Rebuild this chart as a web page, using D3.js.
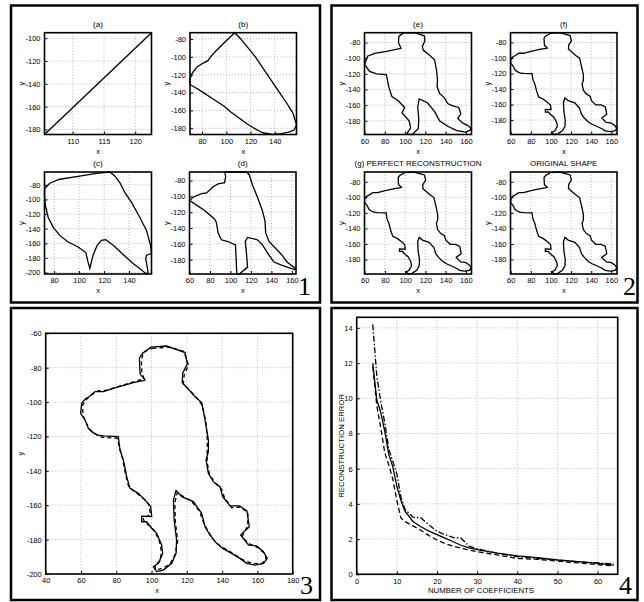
<!DOCTYPE html>
<html>
<head>
<meta charset="utf-8">
<script src="https://cdn.jsdelivr.net/npm/d3@7"></script>
<style>
body { margin: 0; background: #fff; }
svg { display: block; }
</style>
</head>
<body>
<svg id="fig" width="644" height="602"></svg>
<script>
// ---- data ----
const lineA = [[105.5, -184.4], [122.6, -95.2]];

const shapeB = [[107,-73],[103,-78],[97,-86],[91,-94],[87,-100],[85,-104],[81,-107],[76,-111],[72,-118],[70,-125],[70,-131],
  [75,-135],[82,-141],[90,-148],[98,-155],[104,-162],[110,-168],[117,-175],[123,-180],[130,-185],[138,-187],[146,-186],
  [152,-184],[156,-182],[158,-176],[155,-163],[150,-152],[144,-140],[137,-126],[130,-112],[124,-100],[118,-90],[112,-80]];

const shapeC = [[72.5,-85],[76.5,-77.8],[84.5,-72.4],[97.9,-68.8],[113.9,-64.3],[124.6,-62.5],[128.6,-67.9],[132.6,-76.9],
  [136.6,-90.5],[142,-104],[148.6,-124.3],[154,-142.4],[157.2,-162.7],[158,-174],[154,-176.3],[153.4,-180.8],[155.3,-199.8],
  [154,-202],[143.3,-187.6],[135.3,-175.4],[127.3,-162.7],[121.4,-155],[117.9,-156],[114.5,-162.7],[111.2,-176.3],
  [108.6,-194.3],[107,-184.4],[105.4,-172.7],[99.2,-165],[91.2,-158.2],[84.5,-149.2],[79.2,-137.9],[75.2,-124.3],
  [72.8,-106.3],[72.3,-92.7]];

const shapeD = [[94.3,-69.2],[115.8,-69.2],[118.3,-72.6],[121.5,-85.6],[126.3,-100.8],[131.2,-118.1],[133.7,-131.1],
  [134.4,-146.2],[137.6,-157.1],[144,-165.7],[150.4,-174.4],[155.2,-183],[164,-191.7],[162.5,-192.6],[150.4,-187.4],
  [142.4,-183],[137.6,-174.4],[131.2,-161.4],[126.3,-154.9],[116.7,-151.9],[114.5,-157.1],[115.8,-174.4],[116.7,-189.5],
  [108.7,-198.2],[106.2,-198.2],[105.5,-178.7],[104.9,-161.4],[97.5,-157.1],[91.1,-154.9],[87.9,-146.2],[86.3,-133.2],
  [84.7,-128.9],[75.1,-118.1],[60,-105.1],[63.8,-100.8],[71.9,-96.5],[76.7,-95.6],[83.1,-87.8],[87.9,-84.3],[94.3,-82.6],
  [95.3,-74.8]];

const shapeE = [[99,-67.5],[110,-67.8],[119,-71.5],[119.5,-78],[117,-85],[118,-90],[124,-96],[129,-102],[131,-115],
  [132,-128],[131.5,-136],[134,-145],[139,-151],[142,-158],[147,-161],[153,-163],[155,-171],[152,-177],[157,-183],
  [163,-187],[165.5,-191],[160,-194.5],[151,-192.5],[142,-187],[134,-180],[129,-168],[122,-157],[114,-152],[112.5,-162],
  [113.5,-178],[113,-190],[107,-197.5],[101.5,-197],[105.5,-189],[104,-180],[97,-170],[99.5,-163],[93,-154],[87,-149],
  [84,-137],[81.5,-121],[72,-120],[65,-117],[60,-108],[63,-97.5],[70,-94],[83,-91],[96,-87.5],[93.5,-80],[94,-72]];

const shapeOrig = [[99.5,-68.1],[108.6,-67.4],[119.0,-71.2],[120.3,-77.8],[117.6,-83.3],[117.4,-88.7],[119.9,-91.4],
  [124.6,-96.8],[128.4,-100.3],[130.3,-110.4],[132.2,-122.1],[132.2,-128.8],[130.9,-133.7],[132.2,-141.4],[135.0,-146.3],
  [138.8,-149.2],[140.3,-155.0],[144.5,-160.4],[149.8,-160.4],[154.0,-163.2],[155.4,-172.5],[150.5,-177.3],[154.9,-183.1],
  [159.6,-183.7],[163.4,-187.0],[165.6,-190.9],[163.4,-193.8],[158.6,-194.8],[153.9,-193.8],[150.1,-190.9],[145.4,-188.0],
  [140.3,-185.1],[136.9,-182.2],[133.1,-177.3],[130.3,-172.5],[128.4,-164.7],[123.7,-157.9],[117.1,-155.0],[113.9,-151.5],
  [112.4,-157.0],[112.8,-168.6],[114.2,-180.2],[113.9,-188.0],[111.4,-193.8],[106.7,-197.7],[102.9,-198.6],[101.0,-195.7],
  [103.9,-193.8],[106.3,-188.0],[105.7,-183.1],[102.9,-176.3],[100.1,-173.4],[97.2,-169.6],[94.4,-169.6],[94.4,-166.3],
  [100.1,-166.6],[99.5,-160.8],[97.2,-157.9],[92.5,-153.1],[87.8,-150.2],[85.9,-143.4],[84.0,-133.7],[82.1,-127.9],
  [81.2,-120.1],[72.7,-119.7],[68.9,-119.1],[66.1,-117.2],[64.2,-115.3],[62.3,-110.4],[59.8,-106.5],[60.4,-100.7],
  [62.3,-98.4],[64.7,-96.8],[68.0,-93.9],[72.7,-93.9],[80.2,-91.4],[89.7,-88.7],[95.4,-87.5],[96.3,-87.1],[93.5,-83.7],
  [93.1,-74.5],[94.9,-71.6],[97.2,-70.1]];

const shapeRecon = [[100.5,-68.8],[109.5,-68.0],[118.2,-70.5],[121.0,-78.5],[118.5,-84.0],[118.0,-89.5],[121.0,-92.5],
  [125.5,-97.5],[128.8,-102.0],[130.8,-111.5],[131.6,-122.0],[131.5,-129.5],[131.5,-135.0],[132.8,-142.0],[136.0,-147.0],
  [139.6,-150.5],[141.5,-156.0],[145.5,-161.5],[150.5,-161.0],[154.6,-164.5],[154.5,-172.0],[151.2,-178.5],[155.5,-182.5],
  [160.5,-184.8],[164.5,-188.5],[164.8,-192.0],[162.0,-194.2],[157.5,-193.8],[153.0,-192.5],[149.0,-190.0],[144.5,-187.0],
  [139.5,-184.0],[135.8,-181.0],[132.5,-176.0],[129.6,-170.5],[127.2,-163.5],[122.5,-157.5],[116.5,-154.0],[114.6,-152.5],
  [113.2,-158.5],[113.5,-169.5],[114.8,-181.0],[113.2,-189.0],[110.2,-194.5],[106.0,-196.8],[102.2,-197.5],[102.0,-194.5],
  [104.8,-192.5],[105.6,-187.0],[104.6,-181.5],[102.0,-175.5],[99.0,-172.0],[96.2,-170.2],[95.2,-167.5],[99.4,-165.5],
  [98.5,-159.8],[95.8,-156.5],[91.2,-152.8],[87.0,-149.0],[85.2,-142.0],[83.5,-132.5],[81.8,-126.5],[80.5,-121.0],
  [72.0,-120.5],[68.0,-118.5],[65.0,-116.0],[63.0,-112.0],[61.0,-107.5],[61.0,-101.5],[63.5,-98.0],[66.0,-95.8],
  [69.5,-93.5],[74.0,-93.2],[81.0,-91.0],[90.5,-88.0],[95.8,-86.5],[94.5,-83.0],[94.2,-75.5],[95.5,-71.0],[97.8,-69.5]];

const coeffs     = [4, 5, 6, 7, 8, 9, 10, 11, 12, 14, 16, 18, 20, 22, 24, 26, 28, 30, 35, 40, 45, 50, 55, 60, 64];
const errSolid   = [12, 9.9, 9.2, 8.1, 6.8, 6.1, 5.0, 4.2, 3.6, 3.0, 2.7, 2.45, 2.25, 2.05, 1.85, 1.65, 1.5, 1.4, 1.2, 1.05, 0.95, 0.82, 0.72, 0.62, 0.52];
const errDashed  = [11.8, 9.6, 8.3, 6.9, 6.2, 5.4, 4.2, 3.2, 3.0, 2.75, 2.5, 2.2, 1.95, 1.75, 1.6, 1.48, 1.38, 1.28, 1.1, 0.9, 0.85, 0.75, 0.65, 0.55, 0.48];
const errDashDot = [14.2, 11.3, 9.8, 8.6, 7.1, 6.4, 5.7, 4.4, 3.7, 3.25, 3.2, 2.8, 2.45, 2.25, 2.1, 2.05, 1.6, 1.45, 1.2, 1.0, 0.9, 0.8, 0.72, 0.65, 0.58];

const FONT = '"Liberation Sans", Arial, sans-serif';
const svg = d3.select('#fig');
const fmt = d => String(d);

// quadrant frames
[[11, 5.5, 309, 297], [331.5, 5.5, 306, 297], [11, 308, 309, 292], [331.5, 308, 306, 292]].forEach(b => {
    svg.append('rect').attr('x', b[0]).attr('y', b[1]).attr('width', b[2]).attr('height', b[3])
        .attr('fill', 'none').attr('stroke', '#000').attr('stroke-width', 2.5);
});

function panel(box, xdom, ydom, o) {
    var x0 = box[0], y0 = box[1], x1 = box[2], y1 = box[3],
        x = d3.scaleLinear().domain(xdom).range([x0, x1]),
        y = d3.scaleLinear().domain(ydom).range([y1, y0]),
        xt = x.ticks(o.xn),
        yt = y.ticks(o.yn),
        g = svg.append('g');

    g.append('g').selectAll('line').data(xt).join('line')
        .attr('x1', x).attr('x2', x).attr('y1', y0).attr('y2', y1);
    g.append('g').selectAll('line').data(yt).join('line')
        .attr('y1', y).attr('y2', y).attr('x1', x0).attr('x2', x1);
    g.selectAll('g line').attr('stroke', '#888').attr('stroke-width', 0.6).attr('stroke-dasharray', '1,2');

    g.append('g').attr('transform', 'translate(0,' + y1 + ')')
        .call(d3.axisBottom(x).tickValues(xt).tickSizeInner(-3).tickSizeOuter(0).tickPadding(4).tickFormat(fmt))
        .attr('font-family', FONT).attr('font-size', 7.5)
        .call(a => a.select('.domain').remove());
    g.append('g').attr('transform', 'translate(' + x0 + ',0)')
        .call(d3.axisLeft(y).tickValues(yt).tickSizeInner(-3).tickSizeOuter(0).tickPadding(4).tickFormat(fmt))
        .attr('font-family', FONT).attr('font-size', 7.5)
        .call(a => a.select('.domain').remove());

    if (o.title) g.append('text').attr('x', (x0 + x1) / 2).attr('y', y0 - 6)
        .attr('text-anchor', 'middle').attr('font-family', FONT).attr('font-size', 8).text(o.title);
    g.append('text').attr('x', o.xlx || (x0 + x1) / 2).attr('y', y1 + 19)
        .attr('text-anchor', 'middle').attr('font-family', FONT).attr('font-size', o.lsize || 7.5).text(o.xlabel || 'x');
    g.append('text').attr('transform', 'translate(' + (x0 - (o.yoff || 21)) + ',' + (y0 + y1) / 2 + ') rotate(-90)')
        .attr('text-anchor', 'middle').attr('font-family', FONT).attr('font-size', o.lsize || 7.5).text(o.ylabel || 'y');

    var lines = g.append('g');
    g.append('rect').attr('x', x0).attr('y', y0).attr('width', x1 - x0).attr('height', y1 - y0)
        .attr('fill', 'none').attr('stroke', '#000').attr('stroke-width', 1.6);
    return {x: x, y: y, g: lines};
}

function tight(pts) {
    return [d3.extent(pts, d => d[0]), d3.extent(pts, d => d[1])];
}

function drawShape(p, pts, closed, dash) {
    var line = d3.line().x(d => p.x(d[0])).y(d => p.y(d[1]))
        .curve(closed ? d3.curveLinearClosed : d3.curveLinear);
    p.g.append('path').attr('d', line(pts)).attr('fill', 'none')
        .attr('stroke', '#000').attr('stroke-width', 1.3)
        .attr('stroke-dasharray', dash || null);
}

// figure 1 : (a)-(d)
var small = [
    {box: [44.5, 32.7, 151.5, 134.5], pts: lineA, title: '(a)', closed: false, xn: 3, yn: 5},
    {box: [190, 32.7, 296.5, 134.5], pts: shapeB, title: '(b)', closed: true, xn: 5, yn: 6},
    {box: [44.5, 172, 151.5, 274], pts: shapeC, title: '(c)', closed: true, xn: 5, yn: 6},
    {box: [189.5, 172, 296, 274], pts: shapeD, title: '(d)', closed: true, xn: 6, yn: 6},
    // figure 2 : (e)-(g), original
    {box: [364.5, 32.7, 471.5, 134.5], pts: shapeE, title: '(e)', closed: true, xn: 6, yn: 6},
    {box: [510.5, 32.7, 617, 134.5], pts: shapeOrig, title: '(f)', closed: true, xn: 6, yn: 6},
    {box: [364.5, 172, 471.5, 274], pts: shapeOrig, title: '(g) PERFECT RECONSTRUCTION', closed: true, xn: 6, yn: 6},
    {box: [510.5, 172, 617, 274], pts: shapeOrig, title: 'ORIGINAL SHAPE', closed: true, xn: 6, yn: 6}
];

small.forEach(s => {
    var dom = tight(s.pts),
        p = panel(s.box, dom[0], dom[1], {xn: s.xn, yn: s.yn, title: s.title});
    drawShape(p, s.pts, s.closed);
});

// figure 3 : original vs reconstruction
var p3 = panel([45.7, 333.3, 292.7, 574], [40, 180], [-200, -60], {xn: 7, yn: 7, yoff: 23, xlx: 157});
drawShape(p3, shapeOrig, true);
drawShape(p3, shapeRecon, true, '4,3');

// figure 4 : error vs number of coefficients
var p4 = panel([356.7, 317.3, 617.7, 574.3], [0, 65], [0, 14.6],
    {xn: 7, yn: 8, xlabel: 'NUMBER OF COEFFICIENTS', ylabel: 'RECONSTRUCTION ERROR', yoff: 13, lsize: 7.8, xlx: 481});
[[errSolid, null], [errDashed, '5,3'], [errDashDot, '6,2,1.5,2']].forEach(s => {
    drawShape(p4, coeffs.map((c, i) => [c, s[0][i]]), false, s[1]);
});

// figure numbers
[['1', 311, 295], ['2', 636, 295], ['3', 313, 594], ['4', 632, 594]].forEach(n => {
    svg.append('text').attr('x', n[1]).attr('y', n[2]).attr('text-anchor', 'end')
        .attr('font-family', '"Liberation Serif", "DejaVu Serif", serif').attr('font-size', 26).text(n[0]);
});
</script>
</body>
</html>
